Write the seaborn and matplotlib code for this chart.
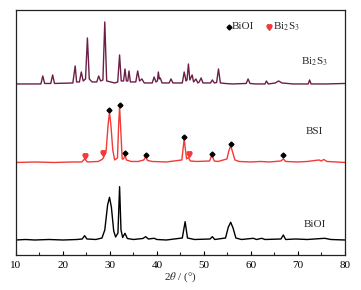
import matplotlib
matplotlib.use('Agg')
import matplotlib.pyplot as plt
import seaborn as sns
import pandas as pd

# XRD patterns (2theta, intensity in plot units with offsets)
bi2s3_x = [10, 15.3, 15.7, 16.1, 17.4, 17.8, 18.2, 22.1, 22.6, 22.9, 23.5, 23.9, 24.3, 24.8, 25.2, 25.6,
           26.2, 27.2, 27.6, 28.0, 28.5, 28.9, 29.3, 31.0, 31.65, 32.05, 32.4, 32.9, 33.2, 33.5, 33.8,
           34.05, 34.35, 35.5, 35.9, 36.3, 36.8, 37.3, 39.0, 39.4, 39.8, 40.1, 40.3, 40.5, 40.7, 41.1,
           42.6, 43.0, 43.4, 45.4, 45.8, 46.2, 46.4, 46.7, 47.0, 47.5, 47.8, 48.3, 48.7, 49.0, 49.4,
           49.8, 51.4, 51.8, 52.2, 52.7, 53.1, 53.5, 54.5, 56.0, 59.0, 59.4, 59.8, 61.0, 63.0, 63.3,
           63.7, 65.2, 65.9, 66.6, 69.0, 72.2, 72.5, 72.8, 76.0, 80]
bi2s3_y = [171, 171, 179, 171.5, 171.5, 180, 171.5, 172, 189, 173, 173, 183, 174, 176, 217, 176,
           173, 173, 179, 174, 175, 233, 174, 172, 173, 200, 174, 174, 186, 174, 174,
           184, 173, 173, 184, 174, 176, 172, 172, 178, 173, 174, 183, 176, 177, 172,
           172, 176, 172, 172, 183, 174, 175, 191, 175, 180, 173, 176, 172, 173, 177,
           172, 172, 175, 172, 172.5, 186, 172, 171.5, 171, 171.5, 176, 171.5, 171, 171, 174,
           171, 172, 174, 172, 171, 171, 175, 171, 171, 171.5]

bsi_x = [10, 14, 18, 22, 24.0, 24.6, 25.2, 27.5, 28.3, 28.6, 29.2, 29.6, 29.9, 30.2, 30.6, 31.0,
         31.6, 31.85, 32.05, 32.3, 32.6, 32.9, 33.2, 33.5, 34.5, 36.0, 37.2, 37.6, 38.0, 39.0, 42,
         45.3, 45.8, 46.3, 46.7, 47.1, 48.5, 51.2, 51.7, 52.2, 53, 54.9, 55.3, 55.7, 56.1, 56.6,
         57.5, 60, 62, 64, 66.4, 66.9, 67.4, 70, 72, 74.5, 75.0, 75.5, 76.2, 80]
bsi_y = [92.5, 93, 92.5, 93, 93, 96, 93, 93.5, 95.5, 97, 105, 130, 142.7, 130, 105, 95,
         97, 130, 148.3, 125, 96, 96, 100, 95, 93.5, 93.5, 95, 98.3, 94.5, 93.5, 93,
         95, 116, 96, 97.5, 94, 93.5, 94, 100, 94, 93.5, 96, 104, 109.3, 103, 95,
         93.5, 93, 93.5, 93, 94, 96, 93.5, 93, 93.5, 95, 94, 95.5, 93.5, 92.5]

bioi_x = [10, 12, 14, 17, 20, 23, 24.1, 24.6, 25.1, 27, 28.3, 28.9, 29.5, 29.9, 30.3, 30.8, 31.2,
          31.7, 32.05, 32.35, 32.7, 33.2, 33.7, 35, 37.0, 37.6, 38.2, 39.4, 40, 42, 45.4, 46.0,
          46.5, 48, 51.3, 51.8, 52.3, 54.6, 55.2, 55.7, 56.2, 56.8, 58, 60.5, 61.2, 62.3, 63,
          66.4, 66.9, 67.4, 69.5, 72, 75.7, 77, 80]
bioi_y = [15, 15.5, 15, 15.5, 15, 15.5, 16, 19.3, 16, 15.5, 17, 25, 50, 57.7, 48, 24, 18,
          22, 68.3, 25, 17.5, 21.7, 16.5, 15.5, 16.5, 18.3, 16, 16.7, 15.5, 15, 17, 33.3,
          17, 15.5, 16, 18.3, 15.5, 17, 28, 32.7, 27, 17, 15.5, 16.7, 15.5, 16.7, 15.5,
          16, 20, 15.5, 16, 15.5, 16.7, 15.5, 15]

# phase markers on the BSI pattern
bioi_mk_x = [29.9, 32.05, 33.2, 37.6, 45.8, 51.7, 55.7, 66.9]
bioi_mk_y = [144.5, 150, 101.5, 100, 118, 101, 111, 99.5]
bi2s3_mk_x = [24.6, 28.5, 46.9]
bi2s3_mk_y = [99, 101.5, 100.5]

sns.set_theme(style="ticks")
plt.rcParams['font.family'] = ['Liberation Serif', 'DejaVu Sans']
plt.rcParams['mathtext.fontset'] = 'stix'

fig = plt.figure(figsize=(3.61, 2.90), dpi=100)
ax = fig.add_axes([0.0443, 0.1207, 0.911, 0.845])

c_bi2s3 = '#6b1f47'
c_bsi = '#f23a36'
sns.lineplot(x=bi2s3_x, y=bi2s3_y, ax=ax, color=c_bi2s3, lw=1.0, estimator=None)
sns.lineplot(x=bsi_x, y=bsi_y, ax=ax, color=c_bsi, lw=1.0, estimator=None)
sns.lineplot(x=bioi_x, y=bioi_y, ax=ax, color='black', lw=1.0, estimator=None)

ax.plot(bioi_mk_x, bioi_mk_y, ls='none', marker='D', ms=2.5, color='black')
ax.plot(bi2s3_mk_x, bi2s3_mk_y, ls='none', marker='$\u2665$', ms=4, color=c_bsi)

# legend-like header
ax.plot([55.4], [228], ls='none', marker='D', ms=2.5, color='black')
ax.text(56.0, 228, 'BiOI', fontsize=8, va='center', ha='left')
ax.plot([63.9], [228], ls='none', marker='$\u2665$', ms=4, color=c_bsi)
ax.text(64.6, 228, 'Bi$_2$S$_3$', fontsize=8, va='center', ha='left')

ax.text(73.5, 193, 'Bi$_2$S$_3$', fontsize=8, va='center', ha='center')
ax.text(73.5, 123, 'BSI', fontsize=8, va='center', ha='center')
ax.text(73.5, 30, 'BiOI', fontsize=8, va='center', ha='center')

ax.set_xlim(10, 80)
ax.set_ylim(0, 245)
ax.set_xticks([10, 20, 30, 40, 50, 60, 70, 80])
ax.set_xticks([15, 25, 35, 45, 55, 65, 75], minor=True)
ax.set_yticks([])
ax.tick_params(axis='x', direction='in', length=3, width=0.8, labelsize=8, pad=4, colors='black')
ax.tick_params(axis='x', which='minor', direction='in', length=2, width=0.8)
for s in ax.spines.values():
    s.set_linewidth(0.9)
    s.set_color('#222222')
ax.set_xlabel(r'2$\mathit{\theta}$ / (°)', fontsize=8, labelpad=1)
ax.set_ylabel('')

fig.savefig('out.png', dpi=100)
